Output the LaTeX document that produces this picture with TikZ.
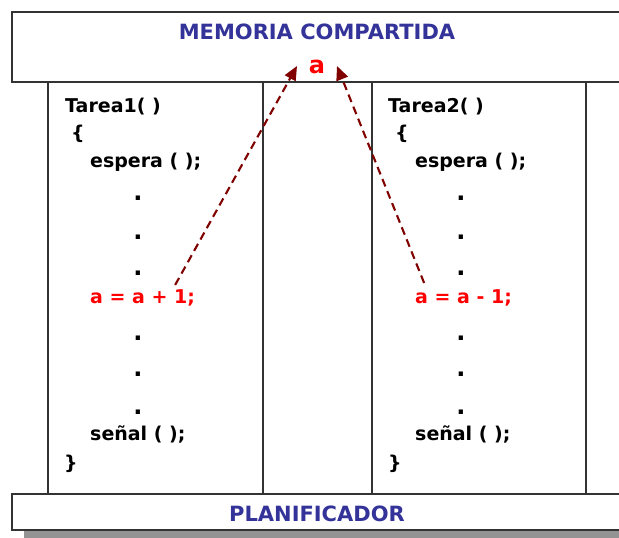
\documentclass[tikz,border=0pt]{standalone}
\usepackage{fontspec}
\setmainfont{DejaVu Sans}
\usetikzlibrary{arrows.meta,calc}
\definecolor{memblue}{HTML}{333399}
\definecolor{arrred}{HTML}{800000}
\definecolor{linegray}{HTML}{333333}
\begin{document}
\begin{tikzpicture}[x=1pt,y=-1pt,
  box/.style={draw=linegray,line width=1.4pt,fill=white,inner sep=0pt,outer sep=0pt},
  code/.style={anchor=base west,font=\bfseries\fontsize{19}{19}\selectfont,inner sep=0pt},
  redcode/.style={code,text=red},
  titletext/.style={font=\bfseries\fontsize{21}{21}\selectfont,text=memblue,inner sep=0pt},
  dotnode/.style={anchor=base,font=\bfseries\fontsize{24}{24}\selectfont,inner sep=0pt},
  access/.style={draw=arrred,line width=2.1pt,dash pattern=on 8pt off 5pt,
    -{Triangle[length=14pt,width=12pt,fill=arrred]}}]
\useasboundingbox (0,0) rectangle (619,538);
\fill[white] (0,0) rectangle (619,538);
% shadow of the scheduler bar
\fill[gray!85] (24,530) rectangle (650,545);
% task columns
\node[box,anchor=north west,minimum width=215pt,minimum height=412pt] (col1) at (48,82) {};
\node[box,anchor=north west,minimum width=214pt,minimum height=412pt] (col2) at (372,82) {};
% shared memory and scheduler
\node[box,anchor=north west,minimum width=640pt,minimum height=70pt] (mem) at (12,12) {};
\node[box,anchor=north west,minimum width=640pt,minimum height=36pt] (plan) at (12,494) {};
\node[titletext] (memtxt) at (317,32) {MEMORIA COMPARTIDA};
\node[titletext] (plantxt) at (317,514) {PLANIFICADOR};
\node[anchor=base,inner sep=0pt,text=red,font=\bfseries\fontsize{24}{24}\selectfont] (a) at (317,73) {a};
% task 1
\node[code] (t1) at (65,112) {Tarea1( )};
\node[code] (o1) at (71,139) {\{};
\node[code] (w1) at (90,167) {espera ( );};
\node[dotnode] (d11) at (138,200) {.};
\node[dotnode] (d12) at (138,239) {.};
\node[dotnode] (d13) at (138,275) {.};
\node[redcode] (inc) at (90,303) {a = a + 1;};
\node[dotnode] (d14) at (138,340) {.};
\node[dotnode] (d15) at (138,376) {.};
\node[dotnode] (d16) at (138,414) {.};
\node[code] (s1) at (90,440) {señal ( );};
\node[code] (c1) at (64,469) {\}};
% task 2
\node[code] (t2) at (388,112) {Tarea2( )};
\node[code] (o2) at (395,139) {\{};
\node[code] (w2) at (415,167) {espera ( );};
\node[dotnode] (d21) at (461,200) {.};
\node[dotnode] (d22) at (461,239) {.};
\node[dotnode] (d23) at (461,275) {.};
\node[redcode] (dec) at (415,303) {a = a - 1;};
\node[dotnode] (d24) at (461,340) {.};
\node[dotnode] (d25) at (461,376) {.};
\node[dotnode] (d26) at (461,414) {.};
\node[code] (s2) at (415,440) {señal ( );};
\node[code] (c2) at (388,469) {\}};
% access arrows
\coordinate (incstart) at ($(inc.north east)+(-20,-4)$);
\coordinate (decstart) at ($(dec.north east)+(-88,-6)$);
\coordinate (aleft) at ($(a.base)+(-20,-7)$);
\coordinate (aright) at ($(a.base)+(20,-7)$);
\draw[access] (incstart) -- (aleft);
\draw[access] (decstart) -- (aright);
\end{tikzpicture}
\end{document}
